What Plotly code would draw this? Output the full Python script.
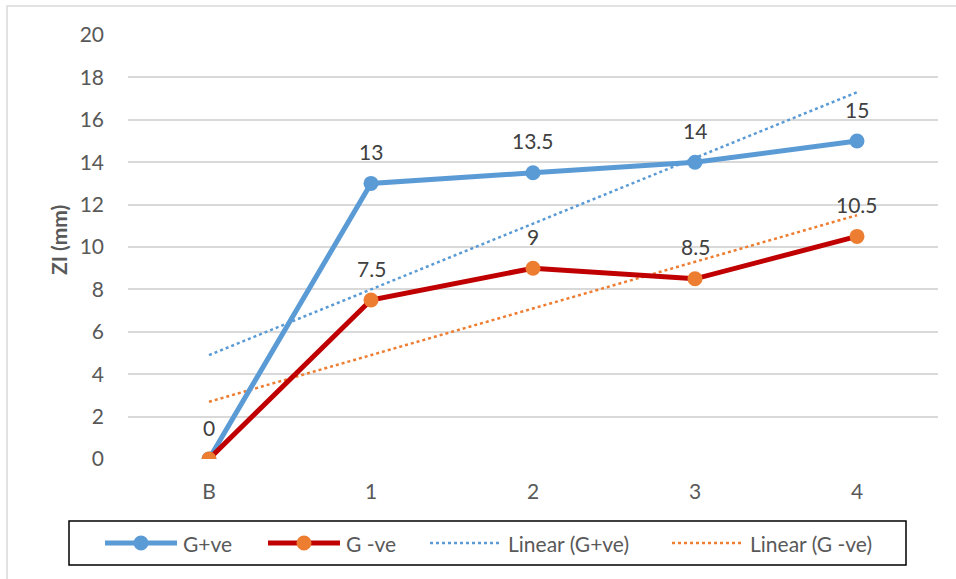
import numpy as np
import plotly.graph_objects as go

categories = ["B", "1", "2", "3", "4"]
g_pos = [0, 13, 13.5, 14, 15]
g_neg = [0, 7.5, 9, 8.5, 10.5]
y_ticks = [0, 2, 4, 6, 8, 10, 12, 14, 16, 18, 20]
series_names = ["G+ve", "G -ve", "Linear (G+ve)", "Linear (G -ve)"]

x_idx = np.arange(len(categories))

def linear_fit(y):
    slope, intercept = np.polyfit(x_idx, y, 1)
    return slope * x_idx + intercept

W, H = 956, 579
L, R, T, B = 128, 938, 35, 459
pw, ph = R - L, B - T

def px(xp):
    return (xp - L) / pw

def py(yp):
    return (B - yp) / ph

BLUE = "#5B9BD5"
RED = "#C00000"
ORANGE = "#ED7D31"
FONT = "Lato"
FS = 21

fig = go.Figure()
fig.add_trace(go.Scatter(x=x_idx, y=linear_fit(g_pos), name=series_names[2], mode="lines",
                         line=dict(color=BLUE, width=2.5, dash="dot")))
fig.add_trace(go.Scatter(x=x_idx, y=linear_fit(g_neg), name=series_names[3], mode="lines",
                         line=dict(color=ORANGE, width=2.5, dash="dot")))
fig.add_trace(go.Scatter(x=x_idx, y=g_pos, name=series_names[0], mode="lines+markers",
                         line=dict(color=BLUE, width=5),
                         marker=dict(color=BLUE, size=15)))
fig.add_trace(go.Scatter(x=x_idx, y=g_neg, name=series_names[1], mode="lines+markers",
                         line=dict(color=RED, width=5),
                         marker=dict(color=ORANGE, size=15)))

annotations = []
for series in (g_pos, g_neg):
    for xi, v in zip(x_idx, series):
        if xi == 0 and series is g_neg:
            continue
        annotations.append(dict(x=xi, y=v, text=f"{v:g}", showarrow=False,
                                yshift=32, font=dict(family=FONT, size=FS, color="#404040")))
annotations.append(dict(xref="paper", yref="paper", x=px(58), y=py(240), text="<b>ZI (mm)</b>",
                        xanchor="center", yanchor="middle",
                        textangle=-90, showarrow=False,
                        font=dict(family=FONT, size=FS, color="#595959")))

shapes = [dict(type="rect", xref="paper", yref="paper",
               x0=px(7), x1=px(965), y0=py(590), y1=py(6),
               line=dict(color="#D9D9D9", width=1.5), layer="below"),
          dict(type="rect", xref="paper", yref="paper",
               x0=px(69), x1=px(906), y0=py(565), y1=py(521),
               line=dict(color="black", width=1.5), fillcolor="white", layer="above")]

legend_y = 543
legend_items = [
    (105, BLUE, "solid", 5, BLUE, series_names[0]),
    (268, RED, "solid", 5, ORANGE, series_names[1]),
    (430, BLUE, "dot", 2.5, None, series_names[2]),
    (672, ORANGE, "dot", 2.5, None, series_names[3]),
]
for x0, lc, dash, lw, mc, name in legend_items:
    shapes.append(dict(type="line", xref="paper", yref="paper",
                       x0=px(x0), x1=px(x0 + 72), y0=py(legend_y), y1=py(legend_y),
                       line=dict(color=lc, width=lw, dash=dash), layer="above"))
    if mc:
        shapes.append(dict(type="circle", xref="paper", yref="paper",
                           xsizemode="pixel", ysizemode="pixel",
                           xanchor=px(x0 + 36), yanchor=py(legend_y),
                           x0=-7.5, x1=7.5, y0=-7.5, y1=7.5,
                           line=dict(width=0), fillcolor=mc, layer="above"))
    annotations.append(dict(xref="paper", yref="paper", x=px(x0 + 76), y=py(legend_y),
                            xanchor="left", yanchor="middle", text=name, showarrow=False,
                            font=dict(family=FONT, size=FS, color="#595959")))

fig.update_layout(
    width=W, height=H,
    margin=dict(l=L, r=W - R, t=T, b=H - B, autoexpand=False),
    paper_bgcolor="white", plot_bgcolor="white",
    font=dict(family=FONT, size=FS, color="#595959"),
    xaxis=dict(range=[-0.5, 4.5], tickmode="array", tickvals=list(x_idx), ticktext=categories,
               showgrid=False, zeroline=False, showline=False, ticks="",
               ticklabelstandoff=18,
               tickfont=dict(size=FS, color="#595959")),
    yaxis=dict(range=[0, 20], tickmode="array", tickvals=y_ticks,
               showgrid=True, gridcolor="#D9D9D9", gridwidth=1.5, zeroline=False,
               showline=False, ticks="", ticklabelstandoff=23,
               tickfont=dict(size=FS, color="#595959")),
    showlegend=False,
    annotations=annotations,
    shapes=shapes,
)

fig.write_html("out.html", config={"displayModeBar": False},
               post_script="document.body.style.margin='0';document.body.style.overflow='hidden';")
